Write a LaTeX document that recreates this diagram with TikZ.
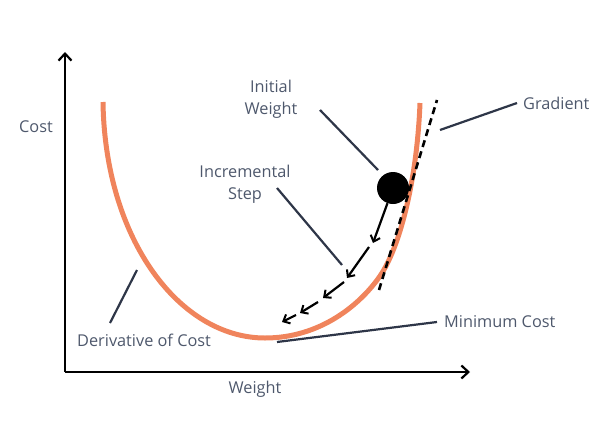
\documentclass[tikz,border=0pt]{standalone}
\usepackage{fontspec}
\setmainfont{Open Sans}
\usetikzlibrary{arrows.meta}
\definecolor{curve}{HTML}{F0845C}
\definecolor{lead}{HTML}{2E3648}
\definecolor{txt}{HTML}{4E586C}
\begin{document}
\begin{tikzpicture}[x=1pt,y=-1pt,
  lbl/.style={text=txt,font=\fontsize{16.3}{22}\selectfont,align=center,inner sep=0pt},
  leader/.style={draw=lead,line width=2.2pt},
  axis/.style={draw=black,line width=2.4pt,-{Straight Barb[length=7pt,width=13pt,line width=2.2pt]}},
  stepar/.style={draw=black,line width=2.2pt,-{Straight Barb[length=5.5pt,width=10pt,line width=2pt]}}]
\useasboundingbox (0,0) rectangle (596,436);
% axes
\coordinate (o) at (65,372);
\coordinate (ytop) at (65,52);
\coordinate (xend) at (470,372);
\draw[axis] (o) -- (ytop);
\draw[axis] (o) -- (xend);
\node[lbl] (cost) at (36,127) {Cost};
\node[lbl] (weight) at (255,389) {Weight};
% cost curve
\draw[curve,line width=5pt] (103,102) .. controls (105,240) and (180,338) .. (265,338)
  .. controls (320,338) and (360,305) .. (380,276)
  .. controls (400,247) and (417,180) .. (420,103);
% tangent
\coordinate (g1) at (379,290);
\coordinate (g2) at (437,100);
\draw[black,line width=2.6pt,dash pattern=on 7pt off 4.5pt] (g1) -- (g2);
% ball
\node[circle,fill=black,minimum size=32pt,inner sep=0pt] (ball) at (393,188) {};
% steps
\coordinate (s1) at (373,243);
\coordinate (s2a) at (369,247);
\coordinate (s2) at (347,278);
\coordinate (s3a) at (344,282);
\coordinate (s3) at (323,298);
\coordinate (s4a) at (318,302);
\coordinate (s4) at (300,313);
\coordinate (s5a) at (296,315);
\coordinate (s5) at (282,322);
\draw[stepar] (ball) -- (s1);
\draw[stepar] (s2a) -- (s2);
\draw[stepar] (s3a) -- (s3);
\draw[stepar] (s4a) -- (s4);
\draw[stepar] (s5a) -- (s5);
% labels
\node[lbl] (initial) at (271,99) {Initial\\Weight};
\coordinate (i1) at (320,110);
\coordinate (i2) at (378,170);
\draw[leader] (i1) -- (i2);
\node[lbl] (incr) at (245,184) {Incremental\\Step};
\coordinate (n1) at (277,188);
\coordinate (n2) at (342,265);
\draw[leader] (n1) -- (n2);
\node[lbl,anchor=west] (grad) at (523,103) {Gradient};
\coordinate (gr1) at (517,103);
\coordinate (gr2) at (440,130);
\draw[leader] (gr1) -- (gr2);
\node[lbl,anchor=west] (deriv) at (77,340) {Derivative of Cost};
\coordinate (d1) at (137,270);
\coordinate (d2) at (110,323);
\draw[leader] (d1) -- (d2);
\node[lbl,anchor=west] (mincost) at (444,322) {Minimum Cost};
\coordinate (m1) at (437,322);
\coordinate (m2) at (277,342);
\draw[leader] (m1) -- (m2);
\end{tikzpicture}
\end{document}
